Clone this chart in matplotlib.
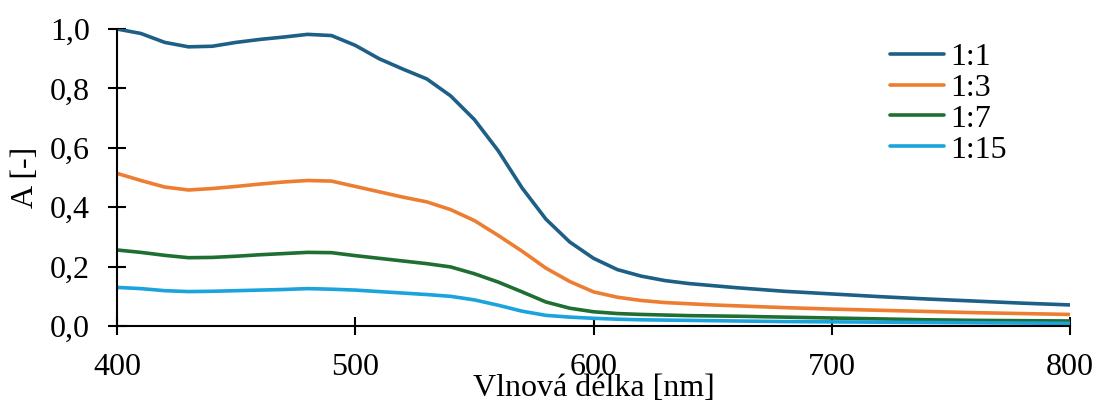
import matplotlib
matplotlib.use("Agg")
import matplotlib.pyplot as plt
from matplotlib.ticker import FuncFormatter, MultipleLocator

# Wavelength grid [nm]
wavelength = [400, 410, 420, 430, 440, 450, 460, 470, 480, 490, 500, 510, 520,
              530, 540, 550, 560, 570, 580, 590, 600, 610, 620, 630, 640, 650,
              660, 680, 700, 720, 740, 760, 780, 800]

# Absorbance for each dilution ratio
abs_1_1 = [1.000, 0.985, 0.955, 0.940, 0.942, 0.955, 0.965, 0.973, 0.982, 0.978,
           0.945, 0.900, 0.865, 0.832, 0.775, 0.695, 0.590, 0.465, 0.360, 0.283,
           0.228, 0.190, 0.168, 0.153, 0.143, 0.136, 0.129, 0.117, 0.108, 0.099,
           0.091, 0.084, 0.077, 0.071]
abs_1_3 = [0.514, 0.490, 0.468, 0.458, 0.463, 0.470, 0.478, 0.485, 0.490, 0.488,
           0.470, 0.452, 0.434, 0.418, 0.392, 0.355, 0.305, 0.252, 0.195, 0.150,
           0.115, 0.097, 0.086, 0.079, 0.075, 0.071, 0.068, 0.062, 0.057, 0.053,
           0.049, 0.045, 0.042, 0.039]
abs_1_7 = [0.256, 0.248, 0.238, 0.230, 0.231, 0.235, 0.240, 0.244, 0.248, 0.247,
           0.237, 0.228, 0.219, 0.210, 0.199, 0.176, 0.148, 0.115, 0.081, 0.060,
           0.048, 0.042, 0.039, 0.037, 0.035, 0.034, 0.033, 0.030, 0.027, 0.024,
           0.021, 0.019, 0.018, 0.017]
abs_1_15 = [0.130, 0.126, 0.119, 0.116, 0.117, 0.119, 0.121, 0.123, 0.126, 0.124,
            0.121, 0.116, 0.111, 0.106, 0.100, 0.088, 0.070, 0.050, 0.036, 0.030,
            0.026, 0.023, 0.021, 0.020, 0.019, 0.018, 0.017, 0.015, 0.014, 0.013,
            0.012, 0.011, 0.010, 0.009]

labels = ["1:1", "1:3", "1:7", "1:15"]
series = [abs_1_1, abs_1_3, abs_1_7, abs_1_15]
colors = ["#1D5F86", "#ED7D31", "#1F6F32", "#1AA3DC"]

FS = 23
plt.rcParams["font.family"] = ["Liberation Serif", "DejaVu Serif"]
plt.rcParams["font.size"] = FS

fig = plt.figure(figsize=(10.97, 4.03), dpi=100)
ax = fig.add_axes([0.1067, 0.191, 0.8687, 0.737])

for vals, lab, col in zip(series, labels, colors):
    ax.plot(wavelength, vals, color=col, lw=2.6, label=lab, solid_capstyle="round")

ax.set_xlim(400, 800)
ax.set_ylim(0, 1.0)
ax.xaxis.set_major_locator(MultipleLocator(100))
ax.yaxis.set_major_locator(MultipleLocator(0.2))
ax.yaxis.set_major_formatter(FuncFormatter(lambda v, p: f"{v:.1f}".replace(".", ",")))

for s in ("top", "right"):
    ax.spines[s].set_visible(False)
for s in ("left", "bottom"):
    ax.spines[s].set_linewidth(1.5)
    ax.spines[s].set_color("black")

ax.tick_params(axis="both", direction="inout", length=13, width=1.5, labelsize=FS)
ax.tick_params(axis="y", pad=13)
ax.tick_params(axis="x", pad=13)

ax.set_xlabel("Vlnová délka [nm]", fontsize=FS, labelpad=-6)
ax.set_ylabel("A [-]", fontsize=FS, labelpad=7)

ax.legend(loc="upper left", bbox_to_anchor=(0.811, 0.955), frameon=False,
          handlelength=1.7, handletextpad=0.2, labelspacing=0.05,
          borderpad=0, borderaxespad=0, fontsize=FS)

fig.savefig("out.png", dpi=100)
